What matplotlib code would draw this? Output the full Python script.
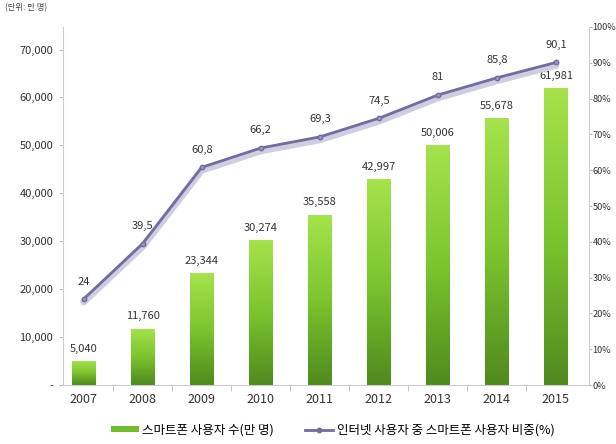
import numpy as np
import matplotlib.pyplot as plt
from matplotlib.colors import LinearSegmentedColormap
from matplotlib.lines import Line2D
from matplotlib.patches import Patch

plt.rcParams['font.family'] = ['Noto Sans CJK KR', 'DejaVu Sans']

years = ['2007', '2008', '2009', '2010', '2011', '2012', '2013', '2014', '2015']
users = [5040, 11760, 23344, 30274, 35558, 42997, 50006, 55678, 61981]
share = [24, 39.5, 60.8, 66.2, 69.3, 74.5, 81, 85.8, 90.1]
share_labels = ['24', '39,5', '60,8', '66,2', '69,3', '74,5', '81', '85,8', '90,1']

fig = plt.figure(figsize=(6.16, 4.44), dpi=100)
ax = fig.add_axes([63 / 616, 59 / 444, 526 / 616, 358 / 444])
ax2 = ax.twinx()

x = np.arange(len(years))
bars = ax.bar(x, users, width=0.39, color='none', zorder=2)

cmap = LinearSegmentedColormap.from_list('g', ['#4f8a1e', '#7cc52e', '#a6e34c'])
grad = np.linspace(0, 1, 256).reshape(-1, 1)
for b in bars:
    x0, y0 = b.get_x(), b.get_y()
    w, h = b.get_width(), b.get_height()
    im = ax.imshow(grad, cmap=cmap, aspect='auto', origin='lower',
                   extent=[x0, x0 + w, y0, y0 + h], zorder=2)
    im.set_clip_path(b)

for xi, v in zip(x, users):
    ax.text(xi, v + 1500, f'{v:,}', ha='center', va='bottom', fontsize=8, color='#333333')

ax.set_xlim(-0.35, 8.56)
ax.set_ylim(0, 74700)
ax.set_yticks(range(0, 70001, 10000))
ax.set_yticklabels(['-'] + [f'{v:,}' for v in range(10000, 70001, 10000)])
ax.set_xticks(x)
ax.set_xticklabels(years)
ax.set_xticks(x[:-1] + 0.5, minor=True)

# line with soft shadow
ax2.plot(x, np.array(share) - 0.8, color='#cfcde0', linewidth=5, solid_capstyle='round', zorder=3)
ax2.plot(x, share, color='#716da0', linewidth=2, marker='o', markersize=3.2,
         markerfacecolor='#9a97c0', markeredgecolor='#716da0', zorder=4)
for xi, v, lab in zip(x, share, share_labels):
    ax2.text(xi, v + 3.5, lab, ha='center', va='bottom', fontsize=8, color='#333333')
ax2.set_ylim(0, 100)
ax2.set_yticks(range(0, 101, 10))
ax2.set_yticklabels([f'{v}%' for v in range(0, 101, 10)])

for a in (ax, ax2):
    for s in a.spines.values():
        s.set_visible(False)
    a.tick_params(labelsize=8, colors='#333333', length=3)
ax.tick_params(axis='x', labelsize=9, length=0, pad=6)
ax.tick_params(axis='x', which='minor', length=4, color='#bbbbbb')
ax.tick_params(axis='y', color='#bbbbbb', pad=4)
ax2.tick_params(axis='y', color='#bbbbbb', labelsize=6.6, pad=0.5, length=2)
ax.spines['left'].set_visible(True)
ax.spines['left'].set_color('#cccccc')
ax.spines['bottom'].set_visible(True)
ax.spines['bottom'].set_color('#cccccc')
ax2.spines['right'].set_visible(True)
ax2.spines['right'].set_color('#cccccc')

fig.text(5 / 616, 1 - 8 / 444, '(단위: 만 명)', fontsize=6, color='#444444', va='center')

handles = [Patch(facecolor='#6fbf2a', edgecolor='none'),
           Line2D([0], [0], color='#716da0', linewidth=2, marker='o', markersize=3.2)]
fig.legend(handles, ['스마트폰 사용자 수(만 명)', '인터넷 사용자 중 스마트폰 사용자 비중(%)'],
           loc='center', bbox_to_anchor=(0.54, 1 - 430 / 444), ncol=2, frameon=False,
           fontsize=9, handlelength=2.2, handleheight=0.4, handletextpad=0.3,
           columnspacing=2.5)

fig.savefig('out.png', dpi=100)
